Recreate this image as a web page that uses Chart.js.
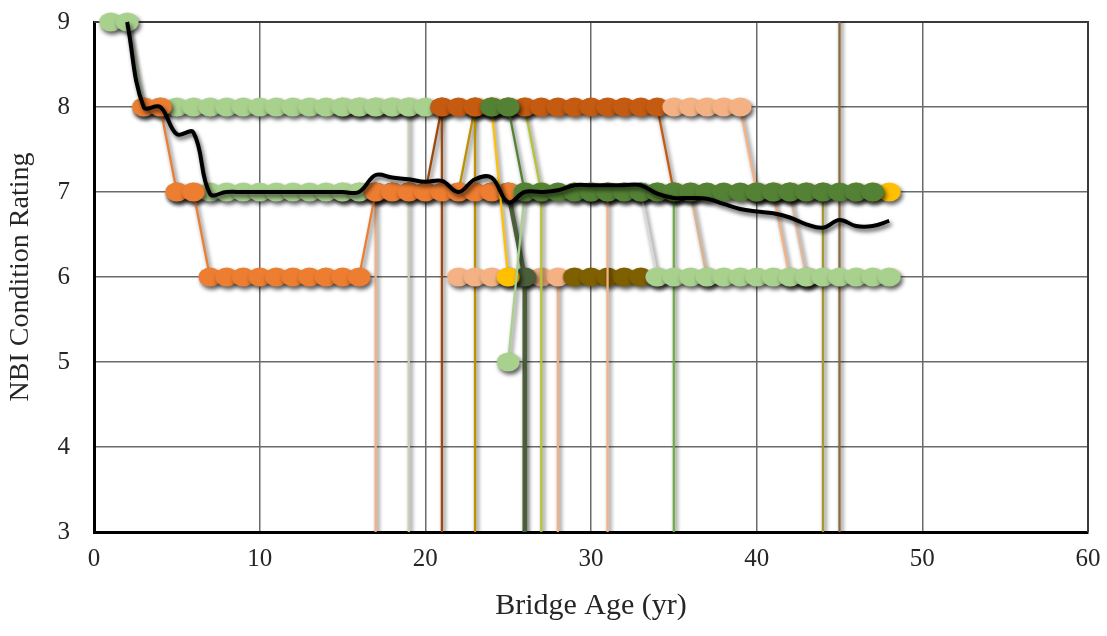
<!DOCTYPE html>
<html lang="en">
<head>
  <meta charset="UTF-8">
  <title>NBI Condition Rating vs Bridge Age</title>
  <script src="https://cdn.jsdelivr.net/npm/chart.js"></script>
  <style>
    body { margin: 0; background: #fff; }
  </style>
</head>
<body>
  <canvas id="ratingChart" width="1107" height="636"></canvas>

  <script>
    // ratings per bridge, one value per year of age starting at startAges[i]
    // dropAges[i]: year the bridge leaves the record (plotted as a 0 rating)
    const b01 = [8, 8, 8, 8, 8];
    const b02 = [9, 9, 8, 8, 8, 8, 8, 8, 8, 8, 8, 8, 8, 8, 8, 8, 8, 8, 8, 8];
    const b03 = [7, 7, 7];
    const b04 = [7, 7, 7, 7, 7, 7, 7, 7, 7, 7, 7, 7];
    const b05 = [7, 7, 7, 7, 8];
    const b06 = [7, 8];
    const b07 = [6, 6, 6, 6, 6, 6, 6];
    const b08 = [7, 7, 6];
    const b09 = [8, 8, 7, 7, 6, 6, 6, 6, 6, 6, 6, 6, 6, 6, 7, 7, 7, 7, 7, 7, 7, 7, 7];
    const b10 = [8, 8, 8, 8, 7];
    const b11 = [6, 6, 6, 6, 6];
    const b12 = [8, 6];
    const b13 = [5, 7];
    const b14 = [8, 8, 8, 8, 8, 8, 8, 8, 8, 8, 8, 8, 8, 8, 7];
    const b15 = [8, 8, 8, 8, 8, 7, 7, 6, 6];
    const b16 = [7, 7, 7, 7, 7, 7];
    const b17 = [7, 7, 7];
    const b18 = [7, 6];
    const b19 = [7, 6];
    const b20 = [7, 6];
    const b21 = [7, 7, 7, 7, 7];
    const b22 = [10];
    const b23 = [7, 7, 7];
    const b24 = [8, 8, 7, 7, 7, 7, 7, 7, 7, 7, 7, 7, 7, 7, 7, 7, 7, 7, 7, 7, 7, 7, 7, 7];
    const b25 = [6, 6, 6, 6, 6, 6, 6, 6, 6, 6, 6, 6, 6, 6, 6];

    const bridges = [b01, b02, b03, b04, b05, b06, b07, b08, b09, b10, b11, b12, b13,
                     b14, b15, b16, b17, b18, b19, b20, b21, b22, b23, b24, b25];
    const startAges = [15, 1, 15, 5, 17, 22, 22, 24, 3, 23, 29, 24, 25,
                       21, 35, 30, 29, 33, 36, 42, 40, 45, 46, 24, 34];
    const dropAges = [19, null, 17, null, 21, 23, 28, 26, null, 27, null, null, null,
                      null, null, 35, 31, null, null, null, 44, 45, null, null, null];

    // average rating (smoothed black line), ages 2..48
    const avgStart = 2;
    const avgRating = [9.0, 8.0, 8.0, 7.68, 7.7, 6.98, 7.0, 7.0, 7.0, 7.0, 7.0, 7.0, 7.0, 7.0, 7.0,
                       7.2, 7.17, 7.15, 7.12, 7.13, 7.0, 7.15, 7.17, 6.88, 7.0, 7.0, 7.02, 7.08,
                       7.08, 7.08, 7.08, 7.08, 6.98, 6.93, 6.93, 6.92, 6.86, 6.8, 6.77, 6.75,
                       6.7, 6.62, 6.58, 6.67, 6.6, 6.6, 6.66];

    const xTicks = [0, 10, 20, 30, 40, 50, 60];
    const yTicks = [3, 4, 5, 6, 7, 8, 9];

    // styling
    const seriesColors = ['#C9D0B0', '#A9D18E', '#F4B183', '#A9D18E', '#9E480E', '#BF9000',
                          '#F4B183', '#4A5E3A', '#ED7D31', '#B5C334', '#7F6000', '#FFC000',
                          '#A9D18E', '#C55A11', '#F4B183', '#70AD47', '#F4B183', '#D9D9D9',
                          '#DDB28A', '#E2B89A', '#A59A2E', '#8C6A3B', '#FFC000', '#548235',
                          '#A9D18E'];
    const thickLine = 7;   // dark line at age 26
    const bareLine = 21;   // full-height line at age 45, no markers
    const serif = "'Liberation Serif', 'Times New Roman', serif";

    // slightly wide oval marker, like the stretched Excel dots
    function dotImage(color) {
      const c = document.createElement('canvas');
      c.width = 26;
      c.height = 22;
      const g = c.getContext('2d');
      g.fillStyle = color;
      g.beginPath();
      g.ellipse(13, 11, 11.5, 9.6, 0, 0, Math.PI * 2);
      g.fill();
      return c;
    }

    function toPoints(start, ratings, drop) {
      const pts = ratings.map((r, i) => ({ x: start + i, y: r }));
      if (drop !== null) pts.push({ x: drop, y: 0 });
      return pts;
    }

    // later bridges are painted over earlier ones (lower order = on top)
    const datasets = bridges.map((r, i) => ({
      data: toPoints(startAges[i], r, dropAges[i]),
      order: -i,
      borderColor: seriesColors[i],
      backgroundColor: seriesColors[i],
      borderWidth: i === thickLine ? 4.5 : 2.25,
      pointStyle: dotImage(seriesColors[i]),
      pointRadius: i === bareLine ? 0 : 10,
      tension: 0,
      clip: { left: 14, top: i === bareLine ? 0 : 12, right: 14, bottom: 0 }
    }));

    datasets.push({
      data: avgRating.map((v, i) => ({ x: avgStart + i, y: v })),
      order: -100,
      borderColor: '#000',
      borderWidth: 4,
      pointRadius: 0,
      tension: 0.4,
      clip: { left: 12, top: 12, right: 12, bottom: 0 }
    });

    const shadow = {
      id: 'shadow',
      beforeDatasetDraw(chart) {
        const ctx = chart.ctx;
        ctx.save();
        ctx.shadowColor = 'rgba(0,0,0,0.65)';
        ctx.shadowBlur = 4;
        ctx.shadowOffsetX = 2;
        ctx.shadowOffsetY = 3;
      },
      afterDatasetDraw(chart) {
        chart.ctx.restore();
      }
    };

    const frame = {
      id: 'frame',
      beforeDatasetsDraw(chart) {
        const { ctx, chartArea: a } = chart;
        ctx.save();
        ctx.strokeStyle = '#3a3a3a';
        ctx.lineWidth = 2;
        ctx.beginPath();
        ctx.moveTo(a.left, a.top);
        ctx.lineTo(a.right, a.top);
        ctx.lineTo(a.right, a.bottom);
        ctx.stroke();
        ctx.restore();
      }
    };

    new Chart(document.getElementById('ratingChart'), {
      type: 'line',
      data: { datasets },
      plugins: [shadow, frame],
      options: {
        responsive: false,
        animation: false,
        devicePixelRatio: 1,
        layout: { padding: { top: 22, right: 19, left: 0, bottom: 0 } },
        plugins: { legend: { display: false }, tooltip: { enabled: false } },
        scales: {
          x: {
            type: 'linear',
            min: 0,
            max: 60,
            afterFit: s => { s.height = 104; s.paddingLeft = 0; s.paddingRight = 0; },
            afterBuildTicks: s => { s.ticks = xTicks.map(v => ({ value: v })); },
            ticks: { font: { family: serif, size: 25 }, color: '#262626', padding: 12, maxRotation: 0 },
            grid: { color: '#6b6b6b', lineWidth: 1.5, drawTicks: false },
            border: { color: '#000', width: 3 },
            title: {
              display: true,
              text: 'Bridge Age (yr)',
              font: { family: serif, size: 30 },
              color: '#262626',
              padding: { top: 0, bottom: 12 }
            }
          },
          y: {
            min: 3,
            max: 9,
            afterFit: s => { s.width = 94; s.paddingTop = 0; s.paddingBottom = 0; },
            afterBuildTicks: s => { s.ticks = yTicks.map(v => ({ value: v })); },
            ticks: { font: { family: serif, size: 25 }, color: '#262626', padding: 24 },
            grid: { color: '#6b6b6b', lineWidth: 1.5, drawTicks: false },
            border: { color: '#000', width: 3 },
            title: {
              display: true,
              text: 'NBI Condition Rating',
              font: { family: serif, size: 28 },
              color: '#262626',
              padding: { top: 4, bottom: 0 }
            }
          }
        }
      }
    });
  </script>
</body>
</html>
